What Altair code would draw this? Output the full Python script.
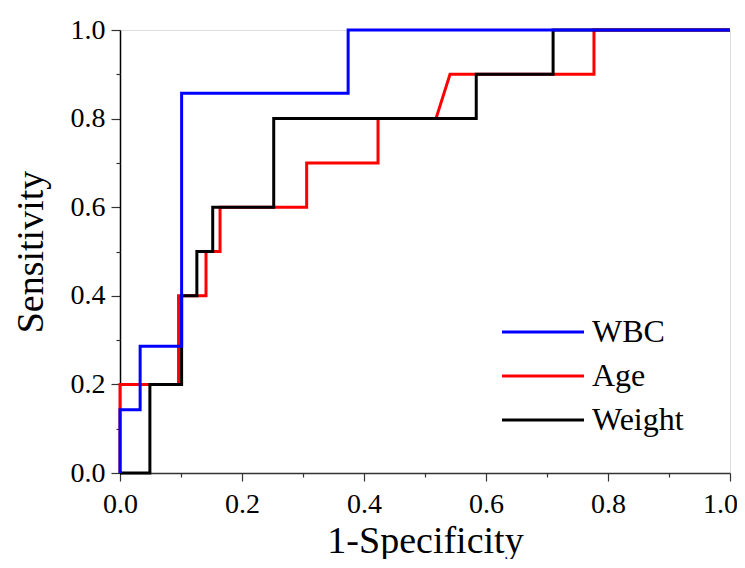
import altair as alt
import pandas as pd

# ROC curve vertices (1-Specificity, Sensitivity)
wbc_x = [0, 0, 0.033, 0.033, 0.101, 0.101, 0.374, 0.374, 1.0]
wbc_y = [0, 0.143, 0.143, 0.286, 0.286, 0.857, 0.857, 1.0, 1.0]

age_x = [0, 0, 0.096, 0.096, 0.141, 0.141, 0.164, 0.164, 0.306, 0.306, 0.423, 0.423, 0.518, 0.541, 0.777, 0.777, 1.0]
age_y = [0, 0.2, 0.2, 0.4, 0.4, 0.5, 0.5, 0.6, 0.6, 0.7, 0.7, 0.8, 0.8, 0.9, 0.9, 1.0, 1.0]

weight_x = [0, 0.049, 0.049, 0.101, 0.101, 0.126, 0.126, 0.152, 0.152, 0.252, 0.252, 0.584, 0.584, 0.710, 0.710, 1.0]
weight_y = [0, 0, 0.2, 0.2, 0.4, 0.4, 0.5, 0.5, 0.6, 0.6, 0.8, 0.8, 0.9, 0.9, 1.0, 1.0]

series_names = ["WBC", "Age", "Weight"]
series_colors = ["#0000ff", "#ff0000", "#000000"]
major_ticks = [0.0, 0.2, 0.4, 0.6, 0.8, 1.0]
minor_ticks = [0.1, 0.3, 0.5, 0.7, 0.9]

rows = []
for name, xs, ys in [("Age", age_x, age_y), ("Weight", weight_x, weight_y), ("WBC", wbc_x, wbc_y)]:
    for i, (xv, yv) in enumerate(zip(xs, ys)):
        rows.append({"series": name, "x": xv, "y": yv, "i": i})
df = pd.DataFrame(rows)

FONT = "Liberation Serif"

xscale = alt.Scale(domain=[0, 1], nice=False, zero=False)
yscale = alt.Scale(domain=[0, 1], nice=False, zero=False)

lines = alt.Chart(df).mark_line(strokeWidth=3, clip=False).encode(
    x=alt.X("x:Q", scale=xscale, axis=alt.Axis(
        orient="bottom", values=major_ticks, format=".1f", title="1-Specificity",
        tickSize=8, labelPadding=31, labelBaseline="alphabetic",
        labelOffset={"condition": {"test": "datum.value >= 0.99", "value": -10}, "value": 0},
        titleBaseline="alphabetic", titleY=79, titleFontSize=38, titleFont=FONT,
        titleFontWeight="normal", labelFont=FONT, labelFontSize=28, labelColor="#000",
        titleColor="#000", grid=False, domainColor="#333", tickColor="#333",
        domainWidth=1.5, tickWidth=1.2, labelFlush=False)),
    y=alt.Y("y:Q", scale=yscale, axis=alt.Axis(
        orient="left", values=major_ticks, format=".1f", title="Sensitivity",
        tickSize=9, labelPadding=6, titleAngle=-90, titleBaseline="alphabetic",
        titleX=-78, titleY=221.5, titleFontSize=38, titleFont=FONT,
        titleFontWeight="normal", labelFont=FONT, labelFontSize=28, labelColor="#000",
        titleColor="#000", grid=False, domainColor="#000", tickColor="#333",
        domainWidth=1.5, tickWidth=1.2, labelFlush=False)),
    color=alt.Color("series:N", scale=alt.Scale(domain=series_names, range=series_colors),
                    legend=alt.Legend(
                        orient="none", legendX=407, legendY=286, title=None,
                        symbolType="M-4.1,0H4.1", symbolSize=400, symbolStrokeWidth=3,
                        labelFont=FONT, labelFontSize=32, labelColor="#000",
                        labelOffset=33, rowPadding=12, padding=0)),
    detail="series:N",
    order="i:Q",
)

minor = alt.Chart(df).mark_point(opacity=0).encode(
    x=alt.X("x:Q", scale=xscale, axis=alt.Axis(
        orient="bottom", values=minor_ticks, labels=False, title=None, tickSize=4,
        domain=False, grid=False, tickColor="#333", tickWidth=1.2)),
    y=alt.Y("y:Q", scale=yscale, axis=alt.Axis(
        orient="left", values=minor_ticks, labels=False, title=None, tickSize=4,
        domain=False, grid=False, tickColor="#333", tickWidth=1.2)),
)

chart = alt.layer(lines, minor).resolve_axis(x="independent", y="independent").properties(
    width=610, height=443,
    autosize=alt.AutoSizeParams(type="none"),
    padding={"left": 112, "top": 22, "right": 7, "bottom": 86},
).configure_view(stroke="#888888", strokeWidth=1.5).configure(background="white")

chart.save("out.html", embed_options={"renderer": "svg", "actions": False})
